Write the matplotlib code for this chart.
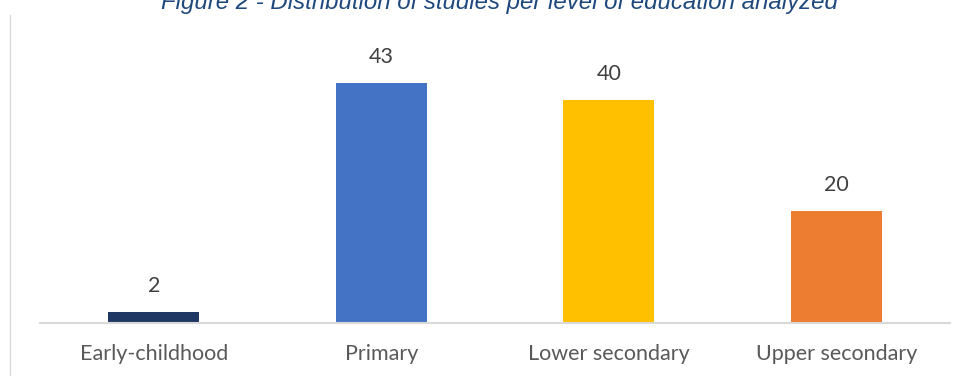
import matplotlib.pyplot as plt
from matplotlib.lines import Line2D

# Data
levels = ["Early-childhood", "Primary", "Lower secondary", "Upper secondary"]
studies = [2, 43, 40, 20]
colors = ["#203864", "#4472C4", "#FFC000", "#ED7D31"]

fig = plt.figure(figsize=(9.62, 3.76), dpi=100)
ax = fig.add_axes([40 / 962, (376 - 323) / 376, 910 / 962, 279 / 376])

x = range(len(levels))
bars = ax.bar(x, studies, width=0.4, color=colors)

for b, v in zip(bars, studies):
    ax.annotate(str(v), (b.get_x() + b.get_width() / 2, v), xytext=(0, 11.5),
                textcoords="offset points", ha="center", va="bottom",
                fontsize=15.5, color="#404040", family="Lato")

ax.set_xlim(-0.5, 3.5)
ax.set_ylim(0, 50)
ax.set_xticks(list(x))
ax.set_xticklabels(levels, fontsize=15.5, color="#595959", family="Lato")
ax.tick_params(axis="x", length=0, pad=15)
ax.set_yticks([])
for s in ["top", "right", "left"]:
    ax.spines[s].set_visible(False)
ax.spines["bottom"].set_color("#D9D9D9")
ax.spines["bottom"].set_linewidth(1.5)

# chart frame edge on the left
fig.add_artist(Line2D([10 / 962, 10 / 962], [0, 1 - 15 / 376], color="#D9D9D9", lw=1))

fig.text(499 / 962, 1 - 9 / 376, "Figure 2 - Distribution of studies per level of education analyzed",
         ha="center", va="baseline", fontsize=17.3, style="italic",
         color="#1F497D", family="Liberation Sans")

fig.savefig("out.png", dpi=100)
